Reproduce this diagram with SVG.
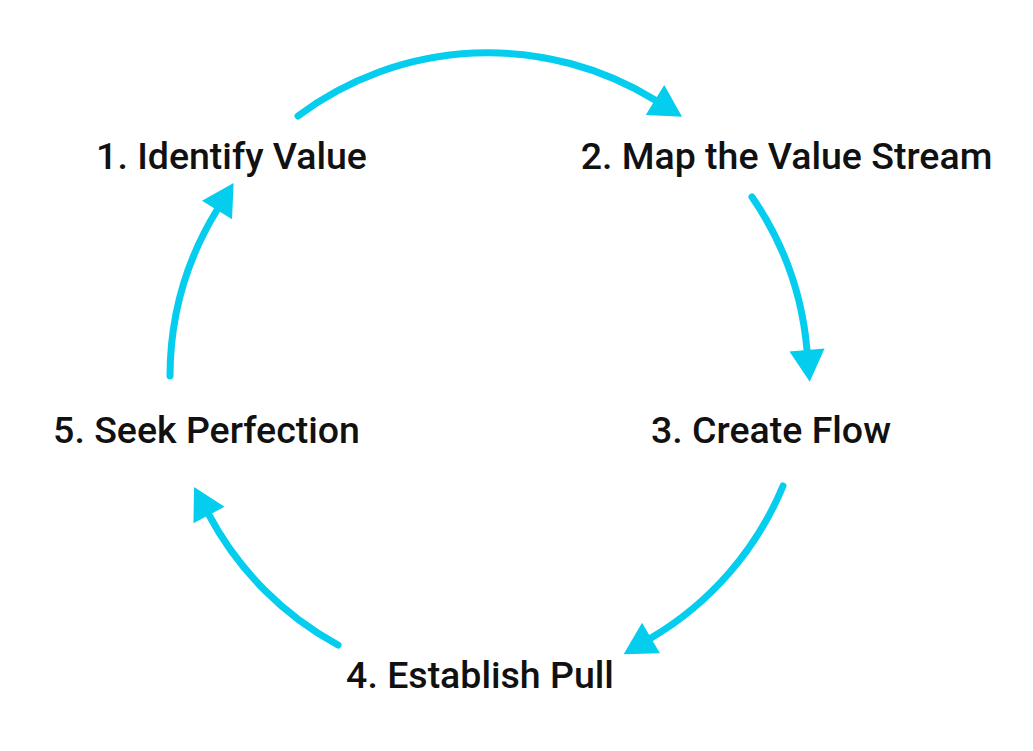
<svg xmlns="http://www.w3.org/2000/svg" width="1033" height="751" viewBox="0 0 1033 751">
  <style>
    .lbl { font-family: Roboto, "Liberation Sans", sans-serif; font-weight: 500; font-size: 37.5px; fill: #111111; text-anchor: middle; }
    .arc { fill: none; stroke: #05CDEE; stroke-width: 7; stroke-linecap: round; }
  </style>
  <defs>
    <marker id="ah" markerUnits="userSpaceOnUse" markerWidth="40" markerHeight="40" viewBox="-2 -17 32 34" refX="0" refY="0" orient="auto">
      <path d="M0,-15 L27,0 L0,15 Z" fill="#05CDEE"/>
    </marker>
  </defs>
  <rect width="1033" height="751" fill="#FFFFFF"/>
  <g id="connectors">
    <path class="arc" d="M298,116 A318,318 0 0 1 655,100" marker-end="url(#ah)"/>
    <path class="arc" d="M752,197 A318,318 0 0 1 807,350" marker-end="url(#ah)"/>
    <path class="arc" d="M783,486 A318,318 0 0 1 651,638" marker-end="url(#ah)"/>
    <path class="arc" d="M338,645 A318,318 0 0 1 209,515" marker-end="url(#ah)"/>
    <path class="arc" d="M170,376 A318,318 0 0 1 217,210" marker-end="url(#ah)"/>
  </g>
  <g id="node1"><text class="lbl" x="231.5" y="169">1. Identify Value</text></g>
  <g id="node2"><text class="lbl" x="786.5" y="169">2. Map the Value Stream</text></g>
  <g id="node3"><text class="lbl" x="771" y="443">3. Create Flow</text></g>
  <g id="node4"><text class="lbl" x="480" y="688">4. Establish Pull</text></g>
  <g id="node5"><text class="lbl" x="206.5" y="443">5. Seek Perfection</text></g>
</svg>
